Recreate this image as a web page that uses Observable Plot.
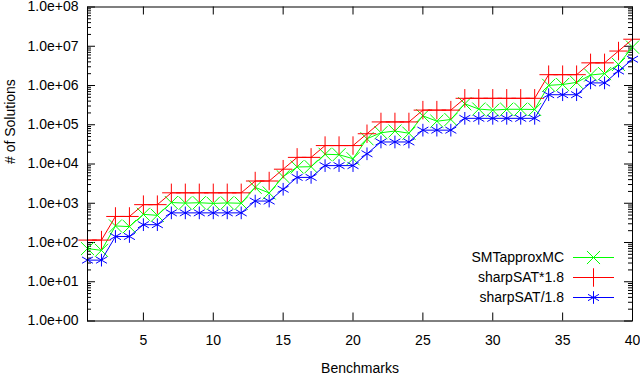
<!DOCTYPE html>
<html><head><meta charset="utf-8">
<script src="https://cdn.jsdelivr.net/npm/d3@7"></script>
<script src="https://cdn.jsdelivr.net/npm/@observablehq/plot@0.6"></script>
<style>body{margin:0;background:#fff} #chart{width:640px;height:378px}</style>
</head><body><div id="chart"></div>
<script>
const benchmarks = [1,2,3,4,5,6,7,8,9,10,11,12,13,14,15,16,17,18,19,20,21,22,23,24,25,26,27,28,29,30,31,32,33,34,35,36,37,38,39,40];
const sharpSAT = [64,64,256,256,512,512,1024,1024,1024,1024,1024,1024,2048,2048,4096,8192,8192,16384,16384,16384,32768,65536,65536,65536,131072,131072,131072,262144,262144,262144,262144,262144,262144,1048576,1048576,1048576,2097152,2097152,4194304,8388608];
const smtApproxMC = [70,63,264,254,522,492,1040,1010,1030,990,1020,1000,2540,1830,4750,8390,8540,17700,17250,13640,44000,62500,69200,60800,169000,123000,136000,342000,251000,236000,248000,248000,245000,1010000,1060000,1200000,1850000,2010000,3440000,9500000];
const seriesNames = ["SMTapproxMC","sharpSAT*1.8","sharpSAT/1.8"];
const seriesColors = ["#00ff00","#ff0000","#0000ff"];
const seriesSymbols = ["times","plus","asterisk"];
const yTickValues = [1,10,100,1000,10000,100000,1000000,10000000,100000000];
const yTickLabels = ["1.0e+00","1.0e+01","1.0e+02","1.0e+03","1.0e+04","1.0e+05","1.0e+06","1.0e+07","1.0e+08"];
const xTickValues = [5,10,15,20,25,30,35,40];
const xTitle = "Benchmarks";
const yTitle = "# of Solutions";

const W = 640, H = 378, mL = 87, mR = 8, mT = 6.5, mB = 57.5;
const pw = W - mL - mR, ph = H - mT - mB;
const yMinor = [];
for (let k = 0; k < 8; k++) for (let m = 2; m <= 9; m++) yMinor.push(m * Math.pow(10, k));

const rows = benchmarks.map((b, i) => ({b, smt: smtApproxMC[i], hi: sharpSAT[i] * 1.8, lo: sharpSAT[i] / 1.8}));
const keys = ["smt", "hi", "lo"];
const font = "Liberation Sans, Arial, Helvetica, sans-serif";
const fs = 14;

const marks = [
  Plot.ruleY(yTickValues, {insetRight: pw - 8, stroke: "black"}),
  Plot.ruleY(yTickValues, {insetLeft: pw - 8, stroke: "black"}),
  Plot.ruleY(yMinor, {insetRight: pw - 4, stroke: "black"}),
  Plot.ruleY(yMinor, {insetLeft: pw - 4, stroke: "black"}),
  Plot.ruleX(xTickValues, {insetTop: ph - 8, stroke: "black"}),
  Plot.ruleX(xTickValues, {insetBottom: ph - 8, stroke: "black"}),
  Plot.axisY({ticks: yTickValues, tickFormat: (d) => yTickLabels[yTickValues.indexOf(d)], tickSize: 0, tickPadding: 9, label: null, fontSize: fs}),
  Plot.axisX({ticks: xTickValues, tickSize: 0, tickPadding: 14, label: null, fontSize: fs}),
  Plot.text([xTitle], {frameAnchor: "bottom", dy: 51.5, text: (d) => d, fontSize: fs}),
  Plot.text([yTitle], {frameAnchor: "left", rotate: -90, dx: -77, text: (d) => d, fontSize: fs})
];
keys.forEach((k, i) => {
  marks.push(Plot.line(rows, {x: "b", y: k, stroke: seriesColors[i], strokeWidth: 1}));
  marks.push(Plot.dot(rows, {x: "b", y: k, symbol: seriesSymbols[i], r: 6, stroke: seriesColors[i], strokeWidth: 1}));
});
marks.push(Plot.frame({stroke: "black"}));

const svg = Plot.plot({
  width: W, height: H,
  marginLeft: mL, marginRight: mR, marginTop: mT, marginBottom: mB,
  style: {fontFamily: font, fontSize: fs + "px", color: "black", background: "white", overflow: "visible"},
  x: {type: "linear", domain: [1, 40]},
  y: {type: "log", domain: [1, 1e8]},
  marks
});
document.getElementById("chart").appendChild(svg);

// legend inside the frame, bottom-right (gnuplot style)
const g = d3.select(svg).append("g").attr("font-family", font).attr("font-size", fs);
const right = W - mR, bottom = H - mB;
const symMap = {times: d3.symbolTimes, plus: d3.symbolPlus, asterisk: d3.symbolAsterisk};
seriesNames.forEach((name, i) => {
  const cy = bottom - 63 + i * 20;
  g.append("text").attr("x", right - 68).attr("y", cy).attr("dy", "0.35em").attr("text-anchor", "end").attr("fill", "black").text(name);
  g.append("line").attr("x1", right - 59).attr("x2", right - 18).attr("y1", cy).attr("y2", cy)
    .attr("stroke", seriesColors[i]).attr("stroke-width", 1);
  g.append("path").attr("transform", `translate(${right - 38.5},${cy})`)
    .attr("d", d3.symbol(symMap[seriesSymbols[i]], Math.PI * 36)()).attr("fill", "none")
    .attr("stroke", seriesColors[i]).attr("stroke-width", 1);
});
</script>
</body></html>
